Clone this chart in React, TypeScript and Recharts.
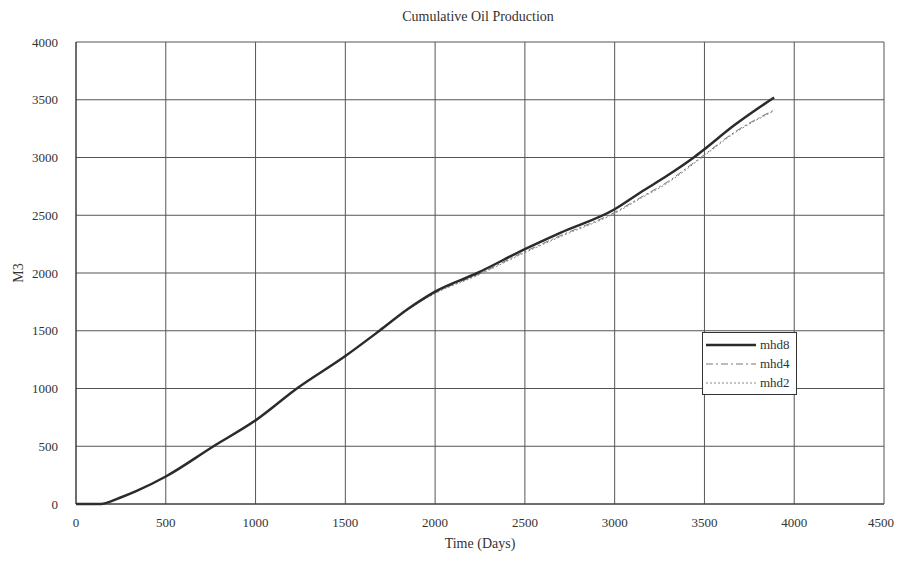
import React from 'react';
import { LineChart, Line, XAxis, YAxis, CartesianGrid, Label } from 'recharts';

const days = [0, 137, 245, 338, 500, 766, 1000, 1230, 1500, 1690, 1850, 2000, 2235, 2500, 2700, 3000, 3143, 3300, 3440, 3500, 3660, 3888];
const mhd8 = [0, 0, 54, 113, 238, 500, 724, 1000, 1281, 1500, 1690, 1839, 2000, 2207, 2350, 2552, 2697, 2850, 3000, 3072, 3272, 3520];
const mhd4 = [0, 0, 54, 113, 238, 500, 724, 1000, 1281, 1500, 1686, 1828, 1985, 2185, 2325, 2525, 2653, 2795, 2955, 3025, 3212, 3411];
const mhd2 = [0, 0, 54, 113, 238, 500, 724, 1000, 1281, 1500, 1684, 1822, 1978, 2176, 2316, 2516, 2644, 2785, 2945, 3016, 3203, 3404];

const xTicks = [0, 500, 1000, 1500, 2000, 2500, 3000, 3500, 4000, 4500];
const yTicks = [0, 500, 1000, 1500, 2000, 2500, 3000, 3500, 4000];

const data = days.map((d, i) => ({ day: d, mhd8: mhd8[i], mhd4: mhd4[i], mhd2: mhd2[i] }));

const font = '"Liberation Serif", "DejaVu Serif", serif';

const legendItems = [
  { name: 'mhd8', stroke: '#2b2b2b', width: 2.5, dash: undefined },
  { name: 'mhd4', stroke: '#777', width: 1, dash: '7 3 2 3' },
  { name: 'mhd2', stroke: '#888', width: 1, dash: '2 2' },
];

const LegendBox = () => (
  <div
    style={{
      position: 'absolute',
      left: 694,
      top: 324,
      border: '1px solid #333',
      background: '#fff',
      width: 93,
      padding: '2px 0',
      fontSize: 13,
      color: '#333',
    }}
  >
    {legendItems.map((it) => (
      <div key={it.name} style={{ display: 'flex', alignItems: 'center', height: 19 }}>
        <svg width={52} height={10} style={{ marginLeft: 3 }}>
          <line x1={0} y1={5} x2={50} y2={5} stroke={it.stroke} strokeWidth={it.width} strokeDasharray={it.dash} />
        </svg>
        <span style={{ marginLeft: 2 }}>{it.name}</span>
      </div>
    ))}
  </div>
);

const App = () => {
  return (
    <div style={{ position: 'relative', width: 886, height: 546, fontFamily: font }}>
      <div
        style={{
          position: 'absolute',
          top: 1,
          left: 0,
          width: 940,
          textAlign: 'center',
          fontSize: 14,
          color: '#333',
        }}
      >
        Cumulative Oil Production
      </div>
      <LineChart width={886} height={546} data={data} margin={{ top: 34, right: 10, left: 18, bottom: 10 }}>
        <CartesianGrid stroke="#555" strokeWidth={1} />
        <XAxis
          dataKey="day"
          type="number"
          domain={[0, 4500]}
          ticks={xTicks}
          height={40}
          axisLine={{ stroke: '#333' }}
          tickLine={false}
          tick={{ fontSize: 13, fill: '#333', fontFamily: font }}
          tickMargin={8}
        >
          <Label value="Time (Days)" position="insideBottom" offset={-4} style={{ fontSize: 14, fill: '#333', fontFamily: font }} />
        </XAxis>
        <YAxis
          type="number"
          domain={[0, 4000]}
          ticks={yTicks}
          width={50}
          axisLine={{ stroke: '#333' }}
          tickLine={false}
          tick={{ fontSize: 13, fill: '#333', fontFamily: font }}
          tickMargin={12}
        >
          <Label value="M3" angle={-90} position="insideLeft" offset={-8} style={{ fontSize: 14, fill: '#333', fontFamily: font, textAnchor: 'middle' }} />
        </YAxis>
        <Line type="monotone" dataKey="mhd2" stroke="#888" strokeWidth={1} strokeDasharray="2 2" dot={false} isAnimationActive={false} />
        <Line type="monotone" dataKey="mhd4" stroke="#777" strokeWidth={1} strokeDasharray="7 3 2 3" dot={false} isAnimationActive={false} />
        <Line type="monotone" dataKey="mhd8" stroke="#2b2b2b" strokeWidth={2.5} dot={false} isAnimationActive={false} />
      </LineChart>
      <LegendBox />
    </div>
  );
};

export default App;
